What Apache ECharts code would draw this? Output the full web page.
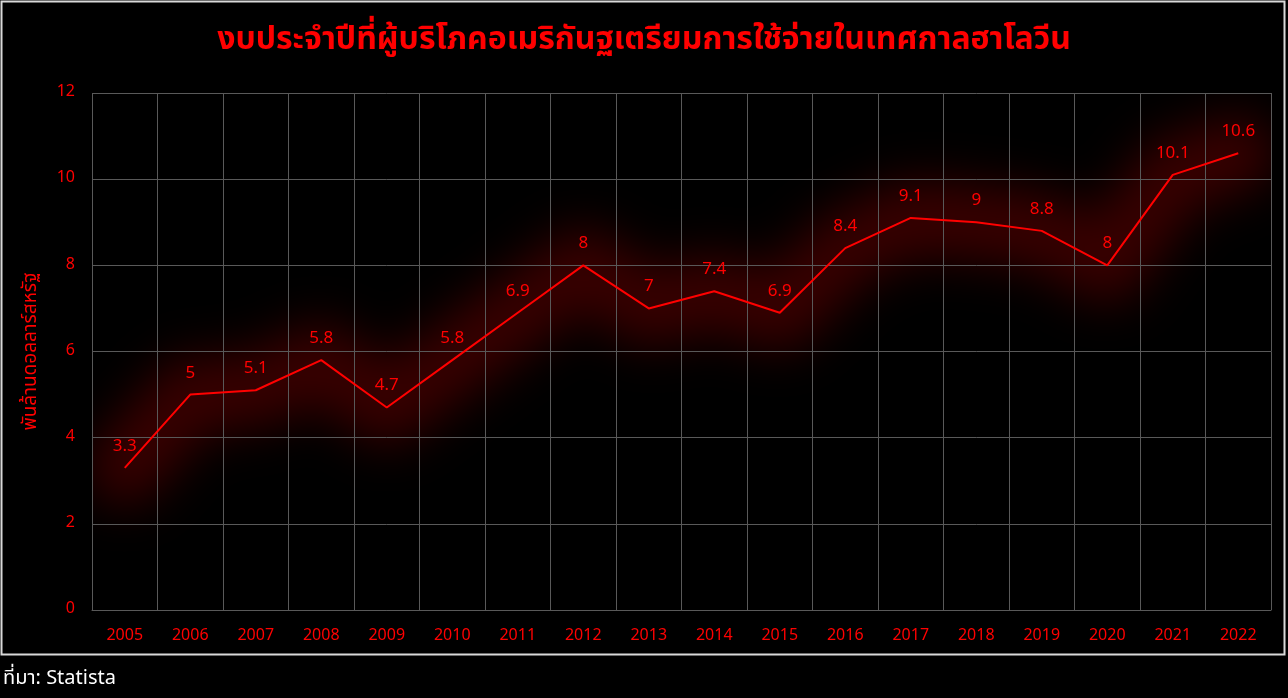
<!DOCTYPE html>
<html><head><meta charset="utf-8">
<script src="https://cdn.jsdelivr.net/npm/echarts@6/dist/echarts.min.js"></script>
<style>
html,body{margin:0;padding:0;background:#000;}
#wrap{position:relative;width:1288px;height:698px;background:#000;overflow:hidden;}
#glowclip{position:absolute;left:0;top:0;width:1288px;height:698px;clip-path:inset(93px 17px 88px 92px);}
#glow{position:absolute;left:0;top:0;width:1288px;height:698px;filter:blur(24px);}
#c{position:absolute;left:0;top:0;width:1288px;height:698px;}
</style>
</head><body><div id="wrap"><div id="glowclip"><div id="glow"></div></div><div id="c"></div></div>
<script>
const years = ['2005','2006','2007','2008','2009','2010','2011','2012','2013','2014','2015','2016','2017','2018','2019','2020','2021','2022'];
const spending = [3.3,5,5.1,5.8,4.7,5.8,6.9,8,7,7.4,6.9,8.4,9.1,9,8.8,8,10.1,10.6];
const yTicks = [0,2,4,6,8,10,12];
const titleText = 'งบประจำปีที่ผู้บริโภคอเมริกันฐเตรียมการใช้จ่ายในเทศกาลฮาโลวีน';
const yName = 'พันล้านดอลลาร์สหรัฐ';
const sourceText = 'ที่มา: Statista';

const font = '"Noto Sans Thai","Noto Sans","DejaVu Sans",sans-serif';
const gridCfg = {left: 92, right: 17, top: 93, bottom: 88};

// glow layer (same scales, blurred via CSS)
const glow = echarts.init(document.getElementById('glow'));
glow.setOption({
  animation: false,
  grid: gridCfg,
  xAxis: {type: 'category', data: years, boundaryGap: true, show: false},
  yAxis: {type: 'value', min: yTicks[0], max: yTicks[yTicks.length-1], interval: 2, show: false},
  series: [{
    type: 'line', data: spending, symbol: 'none', silent: true, clip: false,
    lineStyle: {color: 'rgba(255,0,0,0.22)', width: 75, cap: 'round', join: 'round'}
  }]
});

const chart = echarts.init(document.getElementById('c'));
chart.setOption({
  backgroundColor: 'transparent',
  animation: false,
  title: {
    text: titleText, left: 'center', top: 22,
    textStyle: {color: '#ff0000', fontSize: 32, fontWeight: 'bold', fontFamily: font}
  },
  grid: gridCfg,
  graphic: [
    {type: 'rect', shape: {x: 1.5, y: 1.5, width: 1283, height: 653}, style: {fill: 'none', stroke: '#d9d9d9', lineWidth: 2}, z: -1},
    {type: 'text', left: 3, top: 670, style: {text: sourceText, fill: '#ffffff', fontSize: 20, fontFamily: font}}
  ],
  xAxis: {
    type: 'category', data: years, boundaryGap: true,
    axisLine: {show: true, lineStyle: {color: '#595959'}},
    axisTick: {show: false},
    axisLabel: {color: '#ff0000', fontSize: 16, margin: 19, fontFamily: font},
    splitLine: {show: true, lineStyle: {color: '#595959', width: 1}}
  },
  yAxis: {
    type: 'value', min: yTicks[0], max: yTicks[yTicks.length-1], interval: 2,
    name: yName, nameLocation: 'middle', nameGap: 50, nameRotate: 90,
    nameTextStyle: {color: '#ff0000', fontSize: 19, fontFamily: font},
    axisLine: {show: false}, axisTick: {show: false},
    axisLabel: {color: '#ff0000', fontSize: 16, margin: 17, fontFamily: font},
    splitLine: {show: true, lineStyle: {color: '#595959', width: 1}}
  },
  series: [{
    type: 'line', data: spending, symbol: 'circle', symbolSize: 0, showSymbol: true,
    lineStyle: {color: '#ff0000', width: 2},
    label: {show: true, position: 'top', distance: 12, color: '#ff0000', fontSize: 17, fontFamily: font},
    z: 3
  }]
});
</script></body></html>
